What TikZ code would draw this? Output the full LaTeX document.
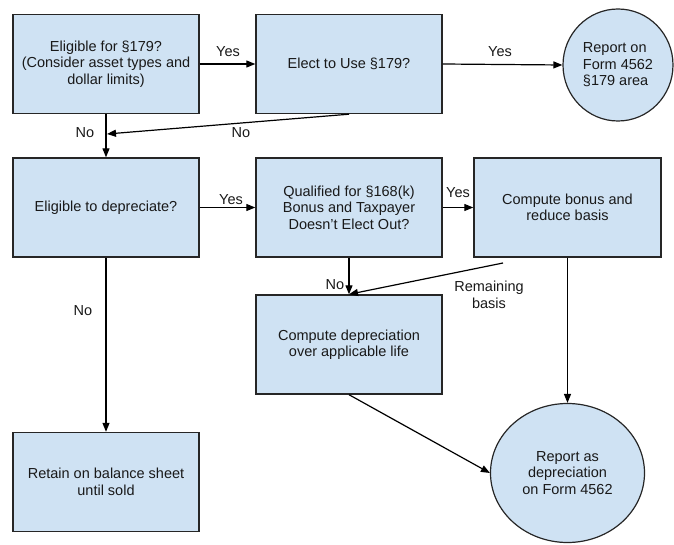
\documentclass[tikz,border=0pt]{standalone}
\usepackage{fontspec}
\setmainfont{Liberation Sans}
\usetikzlibrary{arrows.meta,shapes.geometric}
\definecolor{boxfill}{HTML}{CFE2F3}
\definecolor{boxline}{HTML}{262626}
\begin{document}
\begin{tikzpicture}[x=1pt,y=-1pt,
  every node/.style={font=\fontsize{14.5}{16.5}\selectfont, text=black!90},
  stepbox/.style={draw=boxline, fill=boxfill, line width=1.4pt, rectangle,
    minimum width=186pt, minimum height=99pt, inner sep=2pt, align=center},
  endbox/.style={draw=boxline, fill=boxfill, line width=1.2pt, ellipse, inner sep=0pt},
  conn/.style={draw=black, line width=1.2pt, -{Triangle[length=9pt,width=7pt]}},
  lbl/.style={inner sep=0pt, align=center}]
\useasboundingbox (0,0) rectangle (674,545);
% nodes
\node[stepbox] (A) at (106,64) {Eligible for \S179?\\(Consider asset types and\\dollar limits)};
\node[stepbox] (B) at (349,64) {Elect to Use \S179?};
\node[endbox, minimum width=110pt, minimum height=112pt, align=left] (C) at (618,65) {Report on\\Form 4562\\\S179 area};
\node[stepbox] (D) at (106,207.5) {Eligible to depreciate?};
\node[stepbox] (E) at (349,207.5) {Qualified for \S168(k)\\Bonus and Taxpayer\\Doesn’t Elect Out?};
\node[stepbox, minimum width=187pt] (F) at (567.5,207.5) {Compute bonus and\\reduce basis};
\node[stepbox] (G) at (349,344.5) {Compute depreciation\\over applicable life};
\node[stepbox] (H) at (106,482) {Retain on balance sheet\\until sold};
\node[endbox, minimum width=154pt, minimum height=139pt, align=center] (I) at (567.5,473) {Report as\\depreciation\\on Form 4562};
% free ends
\coordinate (j1) at (107,134);
\coordinate (fb) at (503,263);
% connectors
\draw[conn] (A.east) -- (B.west);
\draw[conn] (B.east) -- (C.west);
\draw[conn] (A.south) -- (D.north);
\draw[conn] (B.south) -- (j1);
\draw[conn] (D.east) -- (E.west);
\draw[conn] (E.east) -- (F.west);
\draw[conn] (D.south) -- (H.north);
\draw[conn] (E.south) -- (G.north);
\draw[conn] (fb) -- (G.north);
\draw[conn] (F.south) -- (I.north);
\draw[conn] (G.south) -- (I.west);
% labels
\node[lbl] (l1) at (228,52) {Yes};
\node[lbl] (l2) at (500,52) {Yes};
\node[lbl] (l3) at (241,133) {No};
\node[lbl] (l4) at (85,133) {No};
\node[lbl] (l5) at (231,200) {Yes};
\node[lbl] (l6) at (458,193) {Yes};
\node[lbl] (l7) at (335,285) {No};
\node[lbl] (l8) at (489,295) {Remaining\\basis};
\node[lbl] (l9) at (83,311) {No};
\end{tikzpicture}
\end{document}
